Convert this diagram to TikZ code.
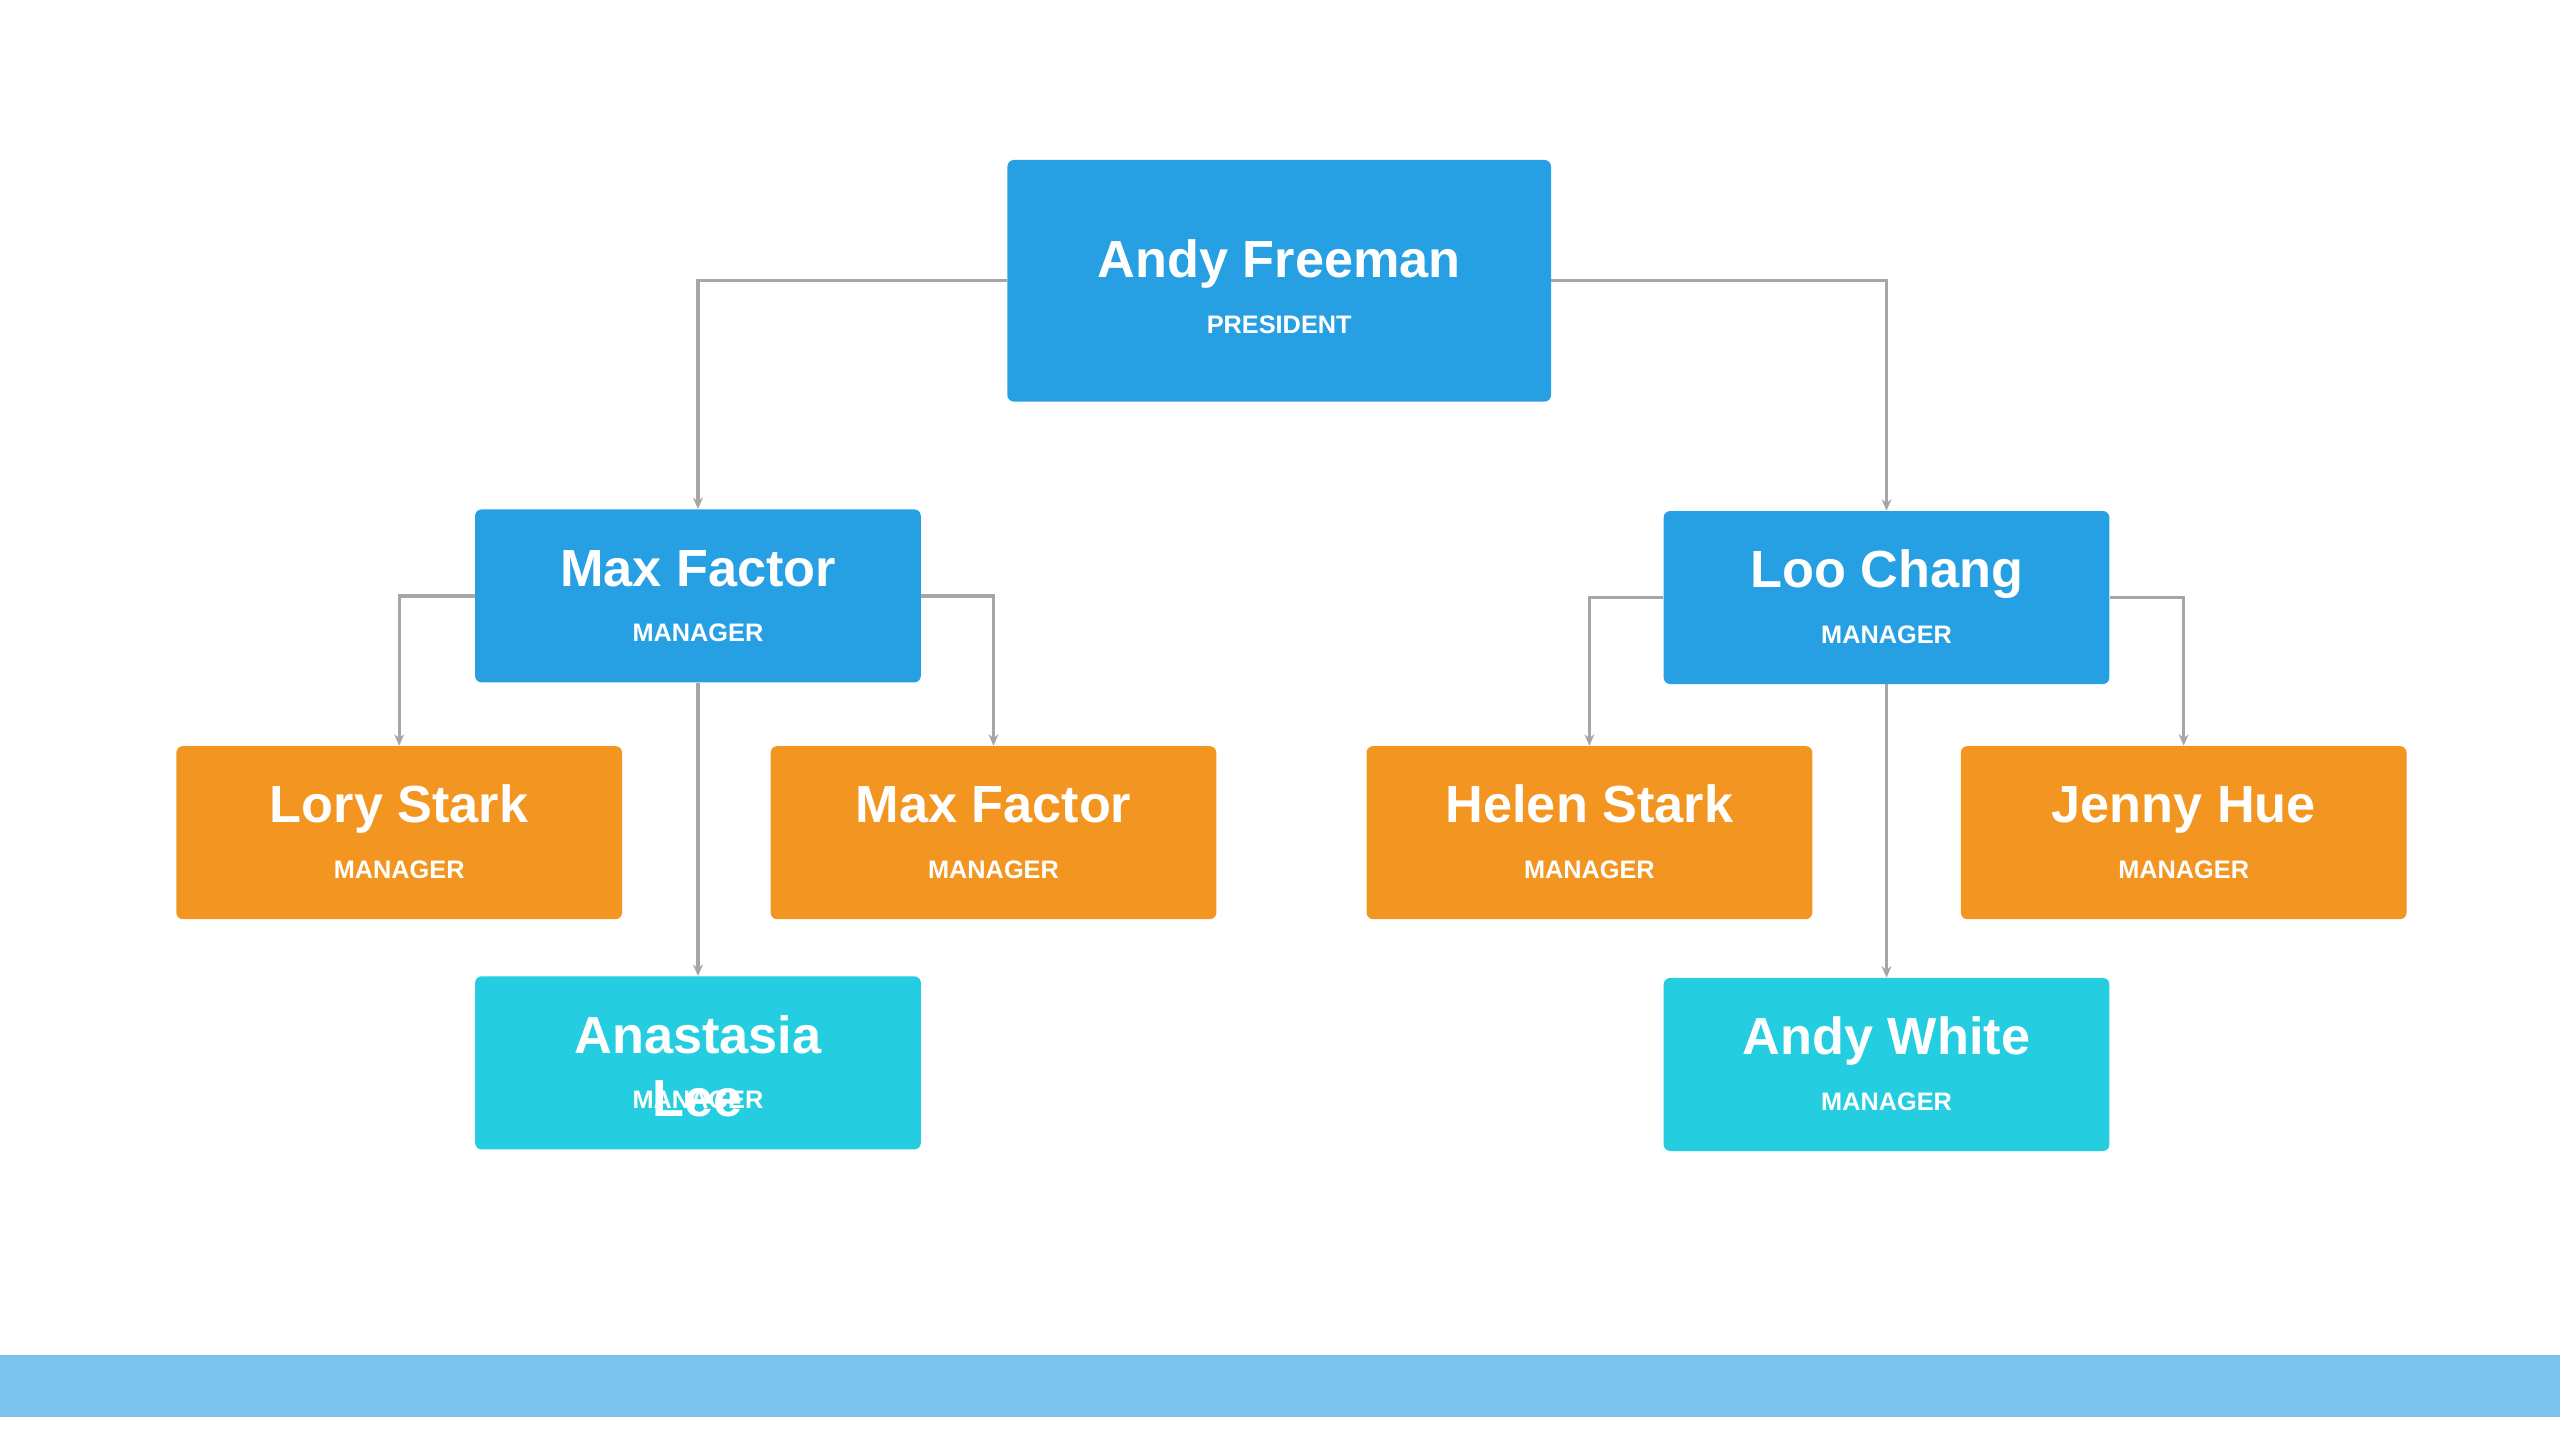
\documentclass[tikz,border=0pt]{standalone}
\usepackage{fontspec}
\setmainfont{Liberation Sans}
\usetikzlibrary{arrows.meta}
\definecolor{cblue}{HTML}{26A0E2}
\definecolor{corange}{HTML}{F39521}
\definecolor{ccyan}{HTML}{24CDE0}
\definecolor{cband}{HTML}{7AC3EC}
\definecolor{cline}{HTML}{A6A6A6}
\begin{document}
\begin{tikzpicture}[x=1pt,y=-1pt,
  box/.style={rectangle,rounded corners=4pt,minimum width=273pt,minimum height=106pt,inner sep=0pt},
  nm/.style={text=white,anchor=base,inner sep=0pt,font=\bfseries\fontsize{32}{36}\selectfont},
  rl/.style={text=white,anchor=base,inner sep=0pt,font=\bfseries\fontsize{15.5}{18}\selectfont},
  conn/.style={draw=cline,line width=2pt,-{Stealth[length=7pt,width=6pt]}}]
\useasboundingbox (0,0) rectangle (1568,882);
\fill[cband] (0,830) rectangle (1568,868);
% boxes
\node[box,fill=cblue,minimum width=333pt,minimum height=148pt] (af) at (783.5,172) {};
\node[box,fill=cblue] (mf) at (427.5,365) {};
\node[box,fill=cblue] (lc) at (1155.5,366) {};
\node[box,fill=corange] (ls) at (244.5,510) {};
\node[box,fill=corange] (mf2) at (608.5,510) {};
\node[box,fill=corange] (hs) at (973.5,510) {};
\node[box,fill=corange] (jh) at (1337.5,510) {};
\node[box,fill=ccyan] (al) at (427.5,651) {};
\node[box,fill=ccyan] (aw) at (1155.5,652) {};
% texts
\node[nm] (t1) at (783.5,170) {Andy Freeman};
\node[rl] (r1) at (783.5,204) {PRESIDENT};
\node[nm] (t2) at (427.5,359) {Max Factor};
\node[rl] (r2) at (427.5,393) {MANAGER};
\node[nm] (t3) at (1155.5,360) {Loo Chang};
\node[rl] (r3) at (1155.5,394) {MANAGER};
\node[nm] (t4) at (244.5,504) {Lory Stark};
\node[rl] (r4) at (244.5,538) {MANAGER};
\node[nm] (t5) at (608.5,504) {Max Factor};
\node[rl] (r5) at (608.5,538) {MANAGER};
\node[nm] (t6) at (973.5,504) {Helen Stark};
\node[rl] (r6) at (973.5,538) {MANAGER};
\node[nm] (t7) at (1337.5,504) {Jenny Hue};
\node[rl] (r7) at (1337.5,538) {MANAGER};
\node[nm] (t8) at (427.5,645) {Anastasia};
\node[rl] (r8) at (427.5,679) {MANAGER};
\node[nm] (t8b) at (427.5,684) {Lee};
\node[nm] (t9) at (1155.5,646) {Andy White};
\node[rl] (r9) at (1155.5,680) {MANAGER};
% connectors
\draw[conn] (af.west) -| (mf.north);
\draw[conn] (af.east) -| (lc.north);
\draw[conn] (mf.west) -| (ls.north);
\draw[conn] (mf.east) -| (mf2.north);
\draw[conn] (mf.south) -- (al.north);
\draw[conn] (lc.west) -| (hs.north);
\draw[conn] (lc.east) -| (jh.north);
\draw[conn] (lc.south) -- (aw.north);
\end{tikzpicture}
\end{document}
